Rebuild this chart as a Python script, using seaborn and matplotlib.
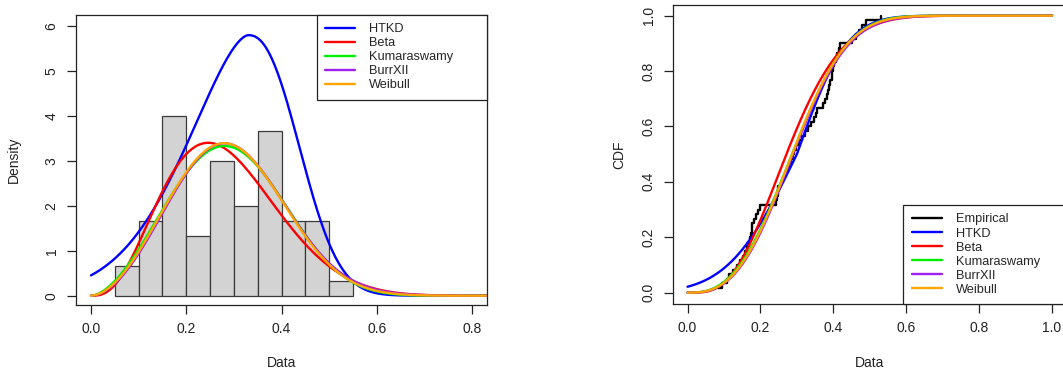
import math
import numpy as np
import matplotlib
matplotlib.use("Agg")
import matplotlib.pyplot as plt
import seaborn as sns

# ---------------- data ----------------
data = [0.083, 0.095,
        0.108, 0.115, 0.125, 0.135, 0.145,
        0.152, 0.158, 0.163, 0.168, 0.172, 0.174, 0.176, 0.178, 0.183, 0.188, 0.193, 0.198,
        0.243, 0.246, 0.248, 0.249,
        0.255, 0.262, 0.268, 0.272, 0.278, 0.283, 0.289, 0.293, 0.298,
        0.306, 0.314, 0.322, 0.330, 0.338, 0.346,
        0.352, 0.355, 0.372, 0.378, 0.383, 0.386, 0.388, 0.392, 0.395, 0.397, 0.399,
        0.403, 0.406, 0.410, 0.415, 0.418,
        0.452, 0.462, 0.470, 0.478, 0.490,
        0.532]
hist_edges = [0.05, 0.10, 0.15, 0.20, 0.25, 0.30, 0.35, 0.40, 0.45, 0.50, 0.55]

models = ["HTKD", "Beta", "Kumaraswamy", "BurrXII", "Weibull"]
model_colors = ["#0000FF", "#FF0000", "#00EE00", "#A020F0", "#FFA500"]

# fitted-model parameters (estimated from the curves)
htkd_pdf_par = [5.79, 0.33, 0.187, 1.65, 0.138, 2.3]   # peak, mode, s_left, p_left, s_right, p_right
htkd_cdf_par = [0.30, 0.148, 0.108]                    # mu, sd_left, sd_right
beta_par = [4.0, 10.2]                                 # a, b
kum_par = [2.7, 19.9]                                  # a, b
burr_par = [2.85, 30.0, 1.08]                          # c, k, scale
weib_par = [2.8, 0.327]                                # shape, scale

x_ticks_pdf = [0.0, 0.2, 0.4, 0.6, 0.8]
y_ticks_pdf = [0, 1, 2, 3, 4, 5, 6]
x_ticks_cdf = [0.0, 0.2, 0.4, 0.6, 0.8, 1.0]
y_ticks_cdf = [0.0, 0.2, 0.4, 0.6, 0.8, 1.0]


# ---------------- model functions ----------------
def htkd_pdf(x):
    pk, m, sl, pl, sr, pr = htkd_pdf_par
    d = x - m
    return np.where(d < 0, pk * np.exp(-(np.abs(d) / sl) ** pl),
                    pk * np.exp(-(np.abs(d) / sr) ** pr))


def htkd_cdf(x):
    mu, sl, sr = htkd_cdf_par
    z = np.where(x < mu, (x - mu) / sl, (x - mu) / sr)
    return 0.5 * (1 + np.vectorize(math.erf)(z / math.sqrt(2)))


def beta_pdf(x):
    a, b = beta_par
    xx = np.clip(x, 1e-12, 1 - 1e-12)
    lnB = math.lgamma(a) + math.lgamma(b) - math.lgamma(a + b)
    return np.exp((a - 1) * np.log(xx) + (b - 1) * np.log(1 - xx) - lnB)


def beta_cdf(x):
    g = np.linspace(0, 1, 4001)
    p = beta_pdf(g)
    c = np.concatenate([[0], np.cumsum((p[1:] + p[:-1]) / 2 * np.diff(g))])
    c = c / c[-1]
    return np.interp(x, g, c)


def kum_pdf(x):
    a, b = kum_par
    return a * b * x ** (a - 1) * (1 - x ** a) ** (b - 1)


def kum_cdf(x):
    a, b = kum_par
    return 1 - (1 - x ** a) ** b


def burr_pdf(x):
    c, k, s = burr_par
    z = x / s
    return c * k / s * z ** (c - 1) * (1 + z ** c) ** (-k - 1)


def burr_cdf(x):
    c, k, s = burr_par
    return 1 - (1 + (x / s) ** c) ** (-k)


def weib_pdf(x):
    k, lam = weib_par
    z = x / lam
    return k / lam * z ** (k - 1) * np.exp(-z ** k)


def weib_cdf(x):
    k, lam = weib_par
    return 1 - np.exp(-(x / lam) ** k)


pdfs = [htkd_pdf, beta_pdf, kum_pdf, burr_pdf, weib_pdf]
cdfs = [htkd_cdf, beta_cdf, kum_cdf, burr_cdf, weib_cdf]

# ---------------- style ----------------
sns.set_theme(style="ticks")
plt.rcParams["font.family"] = ["Liberation Sans", "DejaVu Sans"]
plt.rcParams.update({
    "axes.edgecolor": "#222222",
    "axes.linewidth": 0.9,
    "xtick.color": "#222222",
    "ytick.color": "#222222",
    "xtick.labelcolor": "#222222",
    "ytick.labelcolor": "#222222",
    "xtick.major.size": 6.5,
    "ytick.major.size": 6.5,
    "xtick.major.width": 0.9,
    "ytick.major.width": 0.9,
    "xtick.major.pad": 6,
    "ytick.major.pad": 6,
    "xtick.labelsize": 10,
    "ytick.labelsize": 10,
    "axes.labelsize": 10,
    "axes.labelcolor": "#222222",
})

W, H = 1063, 372
fig = plt.figure(figsize=(W / 100, H / 100), dpi=100)
ax1 = fig.add_axes([76 / W, 1 - 305 / H, (487 - 76) / W, (305 - 15) / H])
ax2 = fig.add_axes([673 / W, 1 - 304 / H, (1066.6 - 673) / W, (304 - 4.6) / H])

leg_kw = dict(borderaxespad=0, frameon=True, fancybox=False, edgecolor="#222222",
              framealpha=1, fontsize=9.2, handlelength=2.35, handletextpad=1.1,
              labelspacing=0.16, borderpad=0.65)

# ---------------- left: histogram + densities ----------------
sns.histplot(x=data, bins=hist_edges, stat="density", color="#D3D3D3",
             edgecolor="#3a3a3a", linewidth=0.9, alpha=1, ax=ax1)
xg = np.linspace(0, 0.86, 600)
for name, col, f in zip(models, model_colors, pdfs):
    sns.lineplot(x=xg, y=f(xg), color=col, lw=1.7, label=name, ax=ax1,
                 estimator=None, sort=False)

ax1.set_xlim(-0.0315, 0.831)
ax1.set_ylim(-0.207, 6.238)
ax1.set_xticks(x_ticks_pdf)
ax1.set_xticklabels([f"{v:.1f}" for v in x_ticks_pdf])
ax1.set_yticks(y_ticks_pdf)
ax1.set_yticklabels([str(v) for v in y_ticks_pdf], rotation=90, va="center")
ax1.set_xlabel("Data")
ax1.set_ylabel("Density")
ax1.xaxis.set_label_coords(0.5, -0.176)
ax1.yaxis.set_label_coords(-0.134, 0.5)

leg1 = ax1.legend(loc="upper left", bbox_to_anchor=(0.586, 0, 0.414, 1.0), mode="expand",
                  **leg_kw)
leg1.get_frame().set_linewidth(0.9)

# ---------------- right: ECDF + model CDFs ----------------
vals, counts = np.unique(np.array(data), return_counts=True)
ecdf = np.cumsum(counts) / len(data)
sns.lineplot(x=vals, y=ecdf, drawstyle="steps-post", color="black", lw=1.7,
             label="Empirical", ax=ax2, estimator=None, sort=False)
xc = np.linspace(0, 1, 600)
for name, col, f in zip(models, model_colors, cdfs):
    sns.lineplot(x=xc, y=f(xc), color=col, lw=1.7, label=name, ax=ax2,
                 estimator=None, sort=False)

ax2.set_xlim(-0.04, 1.04)
ax2.set_ylim(-0.041, 1.04)
ax2.set_xticks(x_ticks_cdf)
ax2.set_xticklabels([f"{v:.1f}" for v in x_ticks_cdf])
ax2.set_yticks(y_ticks_cdf)
ax2.set_yticklabels([f"{v:.1f}" for v in y_ticks_cdf], rotation=90, va="center")
ax2.set_xlabel("Data")
ax2.set_ylabel("CDF")
ax2.xaxis.set_label_coords(0.5, -0.174)
ax2.yaxis.set_label_coords(-0.119, 0.5)

leg2 = ax2.legend(loc="lower left", bbox_to_anchor=(0.585, 0, 0.415, 1.0), mode="expand",
                  **leg_kw)
leg2.get_frame().set_linewidth(0.9)

for ax in (ax1, ax2):
    for sp in ax.spines.values():
        sp.set_visible(True)

fig.savefig("out.png", dpi=100)
